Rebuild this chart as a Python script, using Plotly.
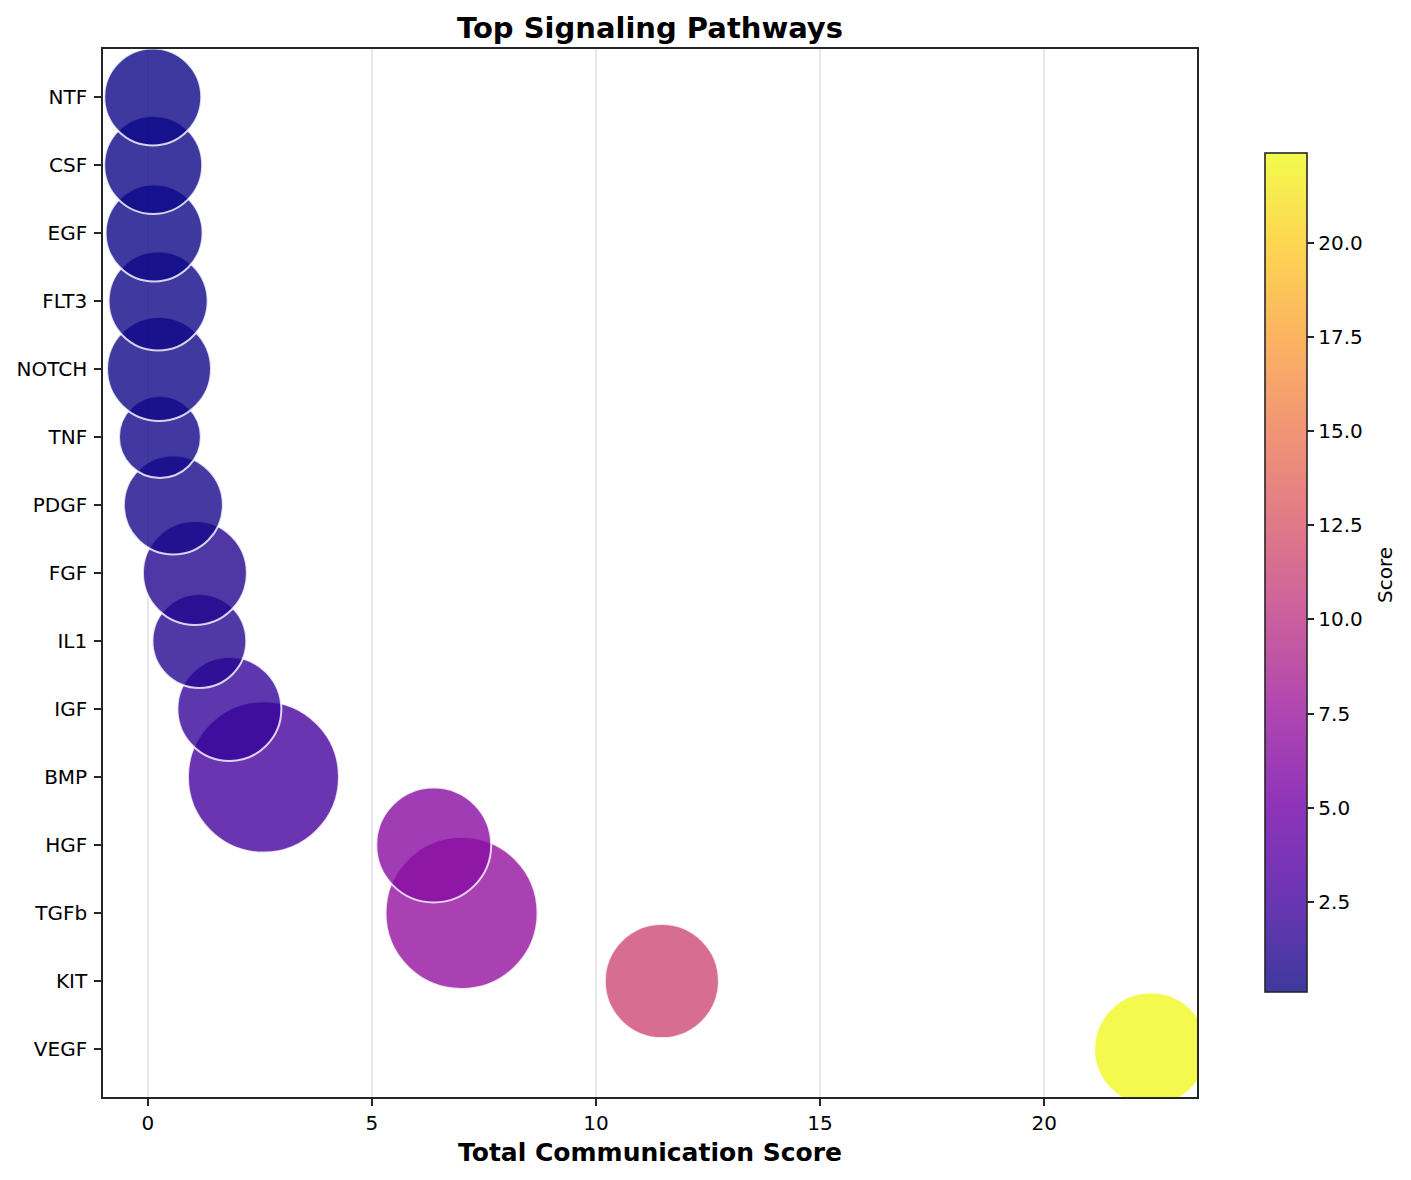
import plotly.graph_objects as go

# pathways, ordered from highest total score (bottom) to lowest (top)
pathways = ["VEGF", "KIT", "TGFb", "HGF", "BMP", "IGF", "IL1", "FGF",
            "PDGF", "TNF", "NOTCH", "FLT3", "EGF", "CSF", "NTF"]
total_score = [22.38, 11.47, 7.00, 6.38, 2.58, 1.82, 1.15, 1.05,
               0.57, 0.27, 0.25, 0.23, 0.14, 0.12, 0.11]
# relative bubble weight (area)
bubble_weight = [12.8, 13.0, 23.1, 13.2, 22.8, 10.8, 8.8, 10.8,
                 9.8, 6.7, 10.8, 9.8, 9.4, 9.6, 9.4]
cbar_ticks = [2.5, 5.0, 7.5, 10.0, 12.5, 15.0, 17.5, 20.0]

plasma = ["#0d0887", "#46039f", "#7201a8", "#9c179e", "#bd3786",
          "#d8576b", "#ed7953", "#fb9f3a", "#fdca26", "#f0f921"]


def with_alpha(hx, a=0.8):
    r, g, b = int(hx[1:3], 16), int(hx[3:5], 16), int(hx[5:7], 16)
    return "rgba(%d,%d,%d,%s)" % (r, g, b, a)


colorscale = [[i / (len(plasma) - 1), with_alpha(c)] for i, c in enumerate(plasma)]

font = "DejaVu Sans"

fig = go.Figure()
fig.add_trace(go.Scatter(
    x=total_score,
    y=pathways,
    mode="markers",
    marker=dict(
        size=bubble_weight,
        sizemode="area",
        sizeref=0.002,
        color=total_score,
        colorscale=colorscale,
        opacity=1,
        line=dict(color="rgba(255,255,255,0.8)", width=2),
        colorbar=dict(
            x=1.062, xanchor="left", xref="paper", xpad=0,
            y=0.5005, yanchor="middle", ypad=0,
            len=0.8006, thickness=42,
            outlinewidth=1.6, outlinecolor="#262626",
            tickvals=cbar_ticks, tickformat=".1f",
            ticks="outside", ticklen=7, tickwidth=1.6, tickcolor="#262626",
            tickfont=dict(family=font, size=20, color="black"),
        ),
    ),
    showlegend=False,
))

axis_common = dict(
    showline=True, linecolor="#262626", linewidth=1.6, mirror=True,
    ticks="outside", ticklen=7, tickwidth=1.6, tickcolor="#262626",
    tickfont=dict(family=font, size=20, color="black"),
    zeroline=False, automargin=False,
)

fig.update_xaxes(
    range=[-1.0, 23.41],
    tickvals=[0, 5, 10, 15, 20],
    showgrid=True, gridcolor="#e8e8e8", gridwidth=1.6,
    ticklabelstandoff=0,
    title=dict(text="<b>Total Communication Score</b>", standoff=10,
               font=dict(family=font, size=25, color="black")),
    **axis_common,
)
fig.update_yaxes(
    type="category",
    categoryorder="array", categoryarray=pathways,
    range=[-0.705, 14.705],
    showgrid=False,
    ticklabelstandoff=3,
    **axis_common,
)

fig.add_annotation(
    text="Score", textangle=-90,
    x=1.1718, xref="paper", xanchor="center",
    y=0.498, yref="paper", yanchor="middle",
    showarrow=False,
    font=dict(family=font, size=20, color="black"),
)

fig.update_layout(
    width=1403, height=1172,
    margin=dict(l=95, r=214, t=41, b=83),
    paper_bgcolor="white", plot_bgcolor="white",
    title=dict(text="<b>Top Signaling Pathways</b>", x=0.5, xref="paper",
               y=1 - 20 / 1172, yref="container", yanchor="middle",
               font=dict(family=font, size=29, color="black")),
)

fig.write_html("out.html")
